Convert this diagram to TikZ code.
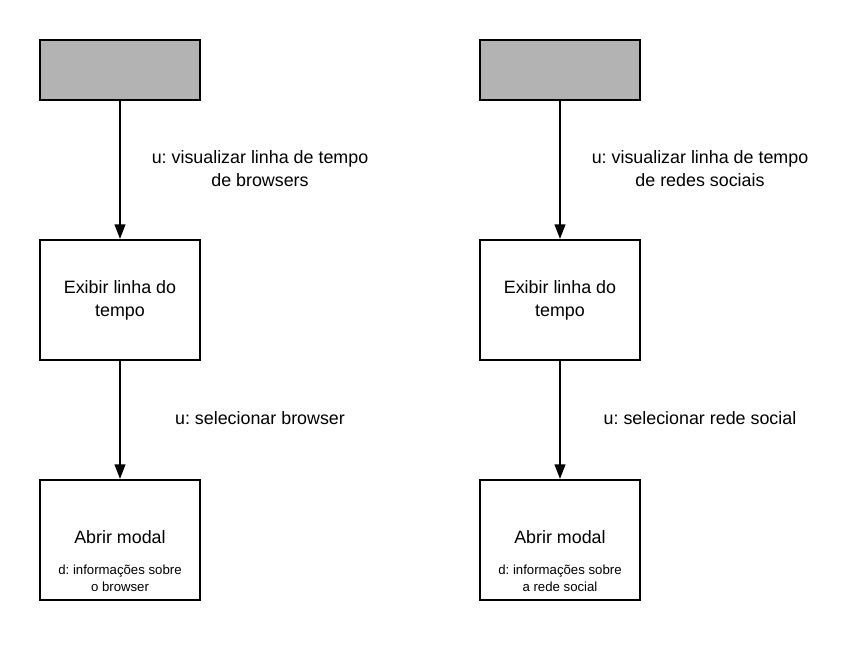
\documentclass[tikz,border=0pt]{standalone}
\usepackage{fontspec}
\setmainfont{Liberation Sans}
\usetikzlibrary{arrows.meta}
\definecolor{boxgray}{HTML}{B3B3B3}
\frenchspacing
\begin{document}
\begin{tikzpicture}[x=0.75pt,y=-0.75pt,
  box/.style={draw=black,line width=1.5pt,minimum width=120pt,inner sep=0pt,align=center,
    font=\fontsize{13.4}{17.25}\selectfont},
  topbox/.style={box,fill=boxgray,minimum height=45pt},
  bigbox/.style={box,fill=white,minimum height=90pt},
  lbl/.style={align=center,inner sep=0pt,font=\fontsize{13.4}{17.25}\selectfont},
  small/.style={align=center,inner sep=0pt,font=\fontsize{9.9}{12.75}\selectfont},
  conn/.style={line width=1.5pt,-{Triangle[width=8pt,length=11pt]}}]
\useasboundingbox[fill=white] (0,0) rectangle (860,660);
% left column
\node[topbox] (lt) at (120,70) {};
\node[bigbox] (lm) at (120,300) {Exibir linha do\\tempo};
\node[bigbox] (lb) at (120,540) {};
\node[lbl] (lbt) at (120,537) {Abrir modal};
\node[small] (lbs) at (120,578.5) {d: informações sobre\\o browser};
\draw[conn] (lt) -- (lm);
\draw[conn] (lm) -- (lb);
\node[lbl] (l1) at (260,168.5) {u: visualizar linha de tempo\\de browsers};
\node[lbl] (l2) at (260,418) {u: selecionar browser};
% right column
\node[topbox] (rt) at (560,70) {};
\node[bigbox] (rm) at (560,300) {Exibir linha do\\tempo};
\node[bigbox] (rb) at (560,540) {};
\node[lbl] (rbt) at (560,537) {Abrir modal};
\node[small] (rbs) at (560,578.5) {d: informações sobre\\a rede social};
\draw[conn] (rt) -- (rm);
\draw[conn] (rm) -- (rb);
\node[lbl] (r1) at (700,168.5) {u: visualizar linha de tempo\\de redes sociais};
\node[lbl] (r2) at (700,418) {u: selecionar rede social};
\end{tikzpicture}
\end{document}
